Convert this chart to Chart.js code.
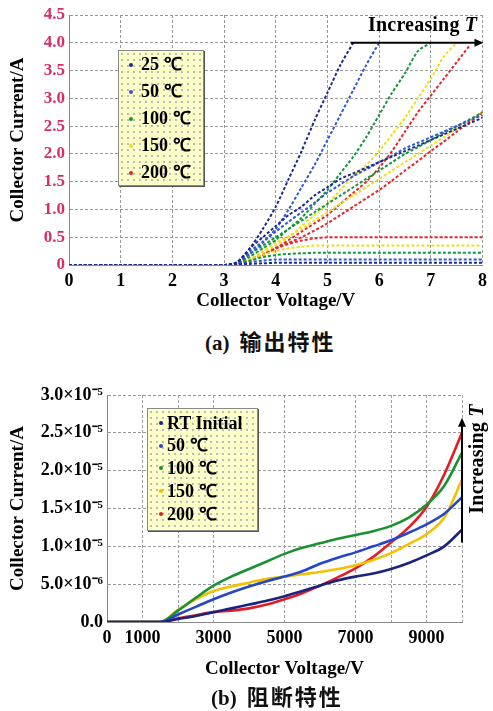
<!DOCTYPE html>
<html lang="zh">
<head>
<meta charset="UTF-8">
<title>输出特性 / 阻断特性</title>
<script src="https://cdn.jsdelivr.net/npm/chart.js"></script>
<style>
  body { margin: 0; background: #fff; }
  #page { position: relative; width: 493px; height: 711px; overflow: hidden; font-family: 'Liberation Serif', 'Times New Roman', serif; }
  .wrap { position: absolute; left: 0; width: 493px; }
  .caption { position: absolute; white-space: nowrap; font-size: 21px; font-weight: bold; color: #111; line-height: 26px; }
  .caption span.cjk { font-family: 'Noto Sans CJK SC', sans-serif; font-size: 22px; letter-spacing: 2px; margin-left: 10px; }
  .legend { position: absolute; background-color: #ffffc8; border: 1px solid #8a8a8a; box-shadow: 1px 1px 0 #555;
            background-image: radial-gradient(#b9b9b9 0.7px, transparent 0.9px); background-size: 6px 6px; }
  .legend .row { position: relative; font-weight: bold; font-size: 18px; color: #000; white-space: nowrap; }
  .legend .mk { position: absolute; width: 4px; height: 4px; border-radius: 2px; }
  .note { position: absolute; font-weight: bold; font-size: 20px; letter-spacing: 0.2px; color: #000; white-space: nowrap; line-height: 22px; }
</style>
</head>
<body>
<div id="page">
  <div class="wrap" style="top:0;height:320px"><canvas id="chartA" width="493" height="320"></canvas></div>
  <div class="caption" style="left:205px;top:327px">(a)<span class="cjk">输出特性</span></div>
  <div class="wrap" style="top:370px;height:310px"><canvas id="chartB" width="493" height="310"></canvas></div>
  <div class="caption" style="left:211px;top:682px">(b)<span class="cjk">阻断特性</span></div>
  <div id="legendA" class="legend" style="left:118px;top:50px;width:84px;height:134px"></div>
  <div id="legendB" class="legend" style="left:147px;top:408px;width:109px;height:121px"></div>
  <div class="note" style="left:368px;top:13px">Increasing <i>T</i></div>
  <div class="note" style="left:421px;top:448px;transform:rotate(-90deg);transform-origin:center;width:110px;text-align:center">Increasing <i>T</i></div>
</div>

<script>
// ---- (a) output characteristics: collector voltage (V) grid ----
const vA = [0, 1, 2, 3, 3.25, 3.5, 3.75, 4, 4.25, 4.5, 4.75, 5, 5.25, 5.5, 5.75, 6, 6.25, 6.5, 6.75, 7, 7.25, 7.5, 7.75, 8];
const tempsA = ['25 ℃', '50 ℃', '100 ℃', '150 ℃', '200 ℃'];
const colorsA = ['#1c2a8c', '#2f57d6', '#14963a', '#eede1e', '#e8262a'];

// high gate drive curves (stop at the 4 A limit)
const hi25  = [0,0,0, 0,0.05,0.3,0.65,1.05,1.55,2.05,2.6,3.1,3.6,4.0, null,null,null,null,null,null,null,null,null,null];
const hi50  = [0,0,0, 0,0.03,0.2,0.4,0.65,1.0,1.4,1.8,2.25,2.7,3.15,3.6,4.0, null,null,null,null,null,null,null,null];
const hi100 = [0,0,0, 0,0.02,0.15,0.3,0.45,0.65,0.85,1.1,1.35,1.65,1.95,2.3,2.7,3.1,3.45,3.85,4.0, null,null,null,null];
const hi150 = [0,0,0, 0,0.01,0.1,0.22,0.35,0.5,0.7,0.9,1.1,1.35,1.6,1.8,2.05,2.35,2.65,3.0,3.35,3.75,4.0, null,null];
const hi200 = [0,0,0, 0,0,0.08,0.18,0.3,0.45,0.6,0.75,0.9,1.1,1.3,1.5,1.75,2.05,2.4,2.75,3.05,3.35,3.65,3.95, null];
// middle gate drive curves
const mid25  = [0,0,0, 0,0.05,0.3,0.5,0.7,0.9,1.05,1.25,1.4,1.55,1.65,1.75,1.85,1.95,2.05,2.15,2.25,2.35,2.45,2.55,2.65];
const mid50  = [0,0,0, 0,0.04,0.25,0.42,0.6,0.78,0.95,1.12,1.3,1.45,1.6,1.72,1.85,1.97,2.1,2.2,2.3,2.4,2.5,2.6,2.7];
const mid100 = [0,0,0, 0,0.03,0.2,0.35,0.5,0.65,0.8,0.95,1.1,1.25,1.4,1.55,1.7,1.85,2.0,2.12,2.25,2.38,2.5,2.62,2.75];
const mid150 = [0,0,0, 0,0.01,0.1,0.25,0.4,0.52,0.65,0.8,0.95,1.1,1.25,1.4,1.55,1.7,1.85,2.0,2.15,2.3,2.45,2.6,2.75];
const mid200 = [0,0,0, 0,0,0.08,0.18,0.3,0.4,0.5,0.62,0.75,0.9,1.05,1.2,1.35,1.52,1.7,1.87,2.05,2.22,2.4,2.57,2.75];
// low gate drive curves (saturate early)
const lo25  = [0,0,0, 0,0.01,0.02,0.03,0.04,0.04,0.04,0.04,0.04,0.04,0.04,0.04,0.04,0.04,0.04,0.04,0.04,0.04,0.04,0.04,0.04];
const lo50  = [0,0,0, 0,0.02,0.05,0.08,0.1,0.1,0.1,0.1,0.1,0.1,0.1,0.1,0.1,0.1,0.1,0.1,0.1,0.1,0.1,0.1,0.1];
const lo100 = [0,0,0, 0,0.02,0.08,0.14,0.18,0.2,0.21,0.22,0.22,0.22,0.22,0.22,0.22,0.22,0.22,0.22,0.22,0.22,0.22,0.22,0.22];
const lo150 = [0,0,0, 0,0.02,0.1,0.18,0.25,0.3,0.33,0.35,0.35,0.35,0.35,0.35,0.35,0.35,0.35,0.35,0.35,0.35,0.35,0.35,0.35];
const lo200 = [0,0,0, 0,0.02,0.1,0.2,0.3,0.38,0.44,0.48,0.5,0.5,0.5,0.5,0.5,0.5,0.5,0.5,0.5,0.5,0.5,0.5,0.5];
const yTickLabelsA = ['0', '0.5', '1.0', '1.5', '2.0', '2.5', '3.0', '3.5', '4.0', '4.5'];

// ---- (b) blocking characteristics ----
const vB = [0, 500, 1000, 1500, 2000, 2500, 3000, 3500, 4000, 4500, 5000, 5500, 6000, 6500, 7000, 7500, 8000, 8500, 9000, 9500, 10000];
const tempsB = ['RT Initial', '50 ℃', '100 ℃', '150 ℃', '200 ℃'];
const colorsB = ['#1a237e', '#2546c8', '#199131', '#f2c200', '#e31b23'];
const iRT  = [0,0,0,0,4e-7,8e-7,1.3e-6,1.8e-6,2.3e-6,2.8e-6,3.4e-6,4.1e-6,4.8e-6,5.5e-6,6.0e-6,6.4e-6,7.0e-6,7.8e-6,8.8e-6,1.0e-5,1.22e-5];
const i50  = [0,0,0,0,1.0e-6,2.0e-6,3.0e-6,3.9e-6,4.7e-6,5.4e-6,6.0e-6,6.7e-6,7.7e-6,8.5e-6,9.2e-6,1.0e-5,1.08e-5,1.18e-5,1.29e-5,1.43e-5,1.65e-5];
const i100 = [0,0,0,0,1.5e-6,3.2e-6,4.8e-6,6.0e-6,7.0e-6,8.0e-6,9.0e-6,9.8e-6,1.04e-5,1.1e-5,1.15e-5,1.2e-5,1.27e-5,1.38e-5,1.55e-5,1.8e-5,2.24e-5];
const i150 = [0,0,0,0,1.6e-6,3.0e-6,4.1e-6,4.7e-6,5.2e-6,5.7e-6,6.0e-6,6.3e-6,6.6e-6,7.0e-6,7.5e-6,8.2e-6,9.1e-6,1.03e-5,1.16e-5,1.38e-5,1.88e-5];
const i200 = [0,0,0,0,5e-7,9e-7,1.3e-6,1.5e-6,1.8e-6,2.3e-6,3.0e-6,3.8e-6,4.8e-6,5.9e-6,7.1e-6,8.6e-6,1.05e-5,1.25e-5,1.52e-5,1.95e-5,2.5e-5];
const yTickLabelsB = ['0.0', '5.0×10⁻⁶', '1.0×10⁻⁵', '1.5×10⁻⁵', '2.0×10⁻⁵', '2.5×10⁻⁵', '3.0×10⁻⁵'];
const xTickLabelsB = [0, 1000, 3000, 5000, 7000, 9000];

const SERIF = "'Liberation Serif', 'Times New Roman', serif";

function points(xs, ys) {
    return xs.map((x, i) => ({ x: x, y: ys[i] }));
}

// arrow drawn in data coordinates
const arrowPlugin = {
    id: 'arrow',
    afterDatasetsDraw(chart, args, opts) {
        const xs = chart.scales.x, ys = chart.scales.y, ctx = chart.ctx;
        const x1 = xs.getPixelForValue(opts.from[0]), y1 = ys.getPixelForValue(opts.from[1]);
        const x2 = xs.getPixelForValue(opts.to[0]) + (opts.dx || 0), y2 = ys.getPixelForValue(opts.to[1]);
        const ang = Math.atan2(y2 - y1, x2 - x1);
        ctx.save();
        ctx.strokeStyle = '#000';
        ctx.fillStyle = '#000';
        ctx.lineWidth = 2;
        ctx.beginPath();
        ctx.moveTo(x1, y1);
        ctx.lineTo(x2 - 6 * Math.cos(ang), y2 - 6 * Math.sin(ang));
        ctx.stroke();
        ctx.beginPath();
        ctx.moveTo(x2, y2);
        ctx.lineTo(x2 - 9 * Math.cos(ang) + 4 * Math.sin(ang), y2 - 9 * Math.sin(ang) - 4 * Math.cos(ang));
        ctx.lineTo(x2 - 9 * Math.cos(ang) - 4 * Math.sin(ang), y2 - 9 * Math.sin(ang) + 4 * Math.cos(ang));
        ctx.closePath();
        ctx.fill();
        ctx.restore();
    }
};

// ---- chart (a) ----
const hiA = [hi25, hi50, hi100, hi150, hi200];
const midA = [mid25, mid50, mid100, mid150, mid200];
const loA = [lo25, lo50, lo100, lo150, lo200];
const datasetsA = [];
tempsA.forEach((t, k) => {
    [loA[k], midA[k], hiA[k]].forEach(arr => {
        datasetsA.push({
            label: t,
            data: points(vA, arr),
            borderColor: colorsA[k],
            borderWidth: 2,
            borderDash: [3, 2],
            pointRadius: 0,
            tension: 0.25,
            fill: false
        });
    });
});

new Chart(document.getElementById('chartA'), {
    type: 'line',
    data: { datasets: datasetsA },
    plugins: [arrowPlugin],
    options: {
        responsive: false,
        animation: false,
        layout: { padding: { left: 0, right: 0, top: 15, bottom: 0 } },
        plugins: {
            legend: { display: false },
            tooltip: { enabled: false },
            arrow: { from: [5.45, 4.0], to: [8, 4.0], dx: 1 }
        },
        scales: {
            x: {
                type: 'linear', min: 0, max: 8,
                afterFit: s => { s.height = 55; },
                ticks: { stepSize: 1, maxRotation: 0, autoSkip: false, padding: 6, color: '#000',
                         font: { family: SERIF, size: 18, weight: 'bold' } },
                grid: { color: '#9a9a9a', lineWidth: 1, drawTicks: false },
                border: { color: '#888', dash: [3, 2] },
                title: { display: true, text: 'Collector Voltage/V', color: '#000', padding: { top: 0, bottom: 8 },
                         font: { family: SERIF, size: 19, weight: 'bold' } }
            },
            y: {
                type: 'linear', min: 0, max: 4.5,
                afterFit: s => { s.width = 69; },
                ticks: { stepSize: 0.5, padding: 4, color: '#dc2a66',
                         font: { family: SERIF, size: 17, weight: 'bold' },
                         callback: v => yTickLabelsA[Math.round(v / 0.5)] },
                grid: { color: '#9a9a9a', lineWidth: 1, drawTicks: false },
                border: { color: '#888', dash: [3, 2] },
                title: { display: true, text: 'Collector Current/A', color: '#000', padding: { top: 7, bottom: 0 },
                         font: { family: SERIF, size: 19, weight: 'bold' } }
            }
        }
    }
});

// ---- chart (b) ----
const seriesB = [iRT, i50, i100, i150, i200];
new Chart(document.getElementById('chartB'), {
    type: 'line',
    data: {
        datasets: tempsB.map((t, k) => ({
            label: t,
            data: points(vB, seriesB[k]),
            borderColor: colorsB[k],
            borderWidth: 2.6,
            pointRadius: 0,
            cubicInterpolationMode: 'monotone',
            fill: false
        }))
    },
    plugins: [arrowPlugin],
    options: {
        responsive: false,
        animation: false,
        layout: { padding: { left: 0, right: 31, top: 25, bottom: 0 } },
        plugins: {
            legend: { display: false },
            tooltip: { enabled: false },
            arrow: { from: [10000, 1.05e-5], to: [10000, 2.7e-5] }
        },
        scales: {
            x: {
                type: 'linear', min: 0, max: 10000,
                afterFit: s => { s.height = 58; },
                ticks: { stepSize: 1000, maxRotation: 0, autoSkip: false, padding: 6, color: '#000',
                         font: { family: SERIF, size: 18, weight: 'bold' },
                         callback: v => xTickLabelsB.includes(v) ? String(v) : '' },
                grid: { drawTicks: false, lineWidth: 1,
                        color: c => (c.tick && (c.tick.value === 4000 || c.tick.value === 6000)) ? 'rgba(0,0,0,0)' : '#a0a0a0' },
                border: { color: '#888', dash: [3, 2] },
                title: { display: true, text: 'Collector Voltage/V', color: '#000', padding: { top: 0, bottom: 0 },
                         font: { family: SERIF, size: 19, weight: 'bold' } }
            },
            y: {
                type: 'linear', min: 0, max: 3e-5,
                afterFit: s => { s.width = 107; },
                ticks: { stepSize: 5e-6, padding: 4, color: '#000',
                         font: { family: SERIF, size: 18, weight: 'bold' },
                         callback: v => yTickLabelsB[Math.round(v / 5e-6)] },
                grid: { color: '#9a9a9a', lineWidth: 1, drawTicks: false },
                border: { color: '#888', dash: [3, 2] },
                title: { display: true, text: 'Collector Current/A', color: '#000', padding: { top: 7, bottom: 0 },
                         font: { family: SERIF, size: 19, weight: 'bold' } }
            }
        }
    }
});

// ---- in-plot legends ----
function buildLegend(id, labels, colors, rowH, padTop, textLeft, markLeft) {
    const box = document.getElementById(id);
    labels.forEach((lab, k) => {
        const row = document.createElement('div');
        row.className = 'row';
        row.style.height = rowH + 'px';
        row.style.lineHeight = rowH + 'px';
        row.style.paddingLeft = textLeft + 'px';
        if (k === 0) row.style.marginTop = padTop + 'px';
        const mk = document.createElement('span');
        mk.className = 'mk';
        mk.style.left = markLeft + 'px';
        mk.style.top = (rowH / 2 - 2) + 'px';
        mk.style.background = colors[k];
        row.appendChild(mk);
        row.appendChild(document.createTextNode(lab));
        box.appendChild(row);
    });
}
buildLegend('legendA', tempsA, colorsA, 27, 0, 22, 10);
buildLegend('legendB', tempsB, colorsB, 22.8, 2.5, 19, 11);
</script>
</body>
</html>
